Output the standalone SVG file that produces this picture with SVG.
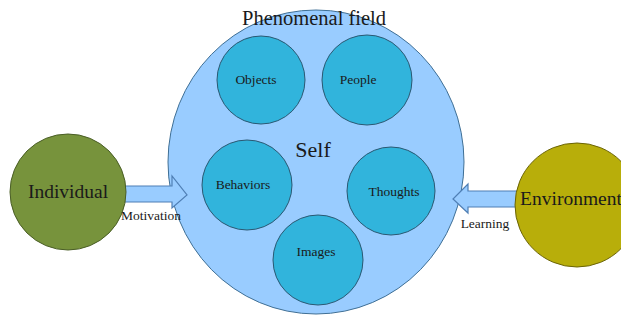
<svg xmlns="http://www.w3.org/2000/svg" width="621" height="320" viewBox="0 0 621 320">
<style>
text{font-family:"Liberation Serif","Times New Roman",serif;fill:#1a1a1a;text-anchor:middle}
.small{font-size:13.5px}
.inner{fill:#31b4dc;stroke:#2a5872;stroke-width:1}
.arrow{fill:#99ccff;stroke:#4f7fb5;stroke-width:1.2}
</style>
<rect width="621" height="320" fill="#ffffff"/>
<g id="phenomenal-field">
<ellipse cx="316" cy="162" rx="148" ry="152" fill="#99ccff" stroke="#3f6f95" stroke-width="1"/>
</g>
<g id="connectors">
<path class="arrow" d="M118 186 L172 186 L172 176 L187 195 L172 208 L172 202 L118 202 Z"/>
<path class="arrow" d="M525 191 L468 191 L468 184 L453 199 L468 213 L468 207 L525 207 Z"/>
</g>
<text x="314" y="25" style="font-size:20.5px">Phenomenal field</text>
<text x="313" y="157" style="font-size:22px">Self</text>
<g id="objects"><circle class="inner" cx="261" cy="80" r="44"/><text class="small" x="256" y="84">Objects</text></g>
<g id="people"><circle class="inner" cx="367" cy="80" r="45"/><text class="small" x="358" y="84">People</text></g>
<g id="behaviors"><circle class="inner" cx="247" cy="185" r="45"/><text class="small" x="243" y="189">Behaviors</text></g>
<g id="thoughts"><circle class="inner" cx="391" cy="191" r="44"/><text class="small" x="394" y="196">Thoughts</text></g>
<g id="images"><circle class="inner" cx="318" cy="260" r="45"/><text class="small" x="316" y="256">Images</text></g>
<g id="individual"><circle cx="68" cy="192" r="58" fill="#77933c" stroke="#4a5e26" stroke-width="1"/><text x="68" y="198" style="font-size:19.5px">Individual</text></g>
<g id="environment"><circle cx="577" cy="205" r="62" fill="#b8ae0a" stroke="#6b6405" stroke-width="1"/><text x="571" y="205" style="font-size:19.5px">Environment</text></g>
<text class="small" x="151" y="220">Motivation</text>
<text class="small" x="485" y="228">Learning</text>
</svg>
